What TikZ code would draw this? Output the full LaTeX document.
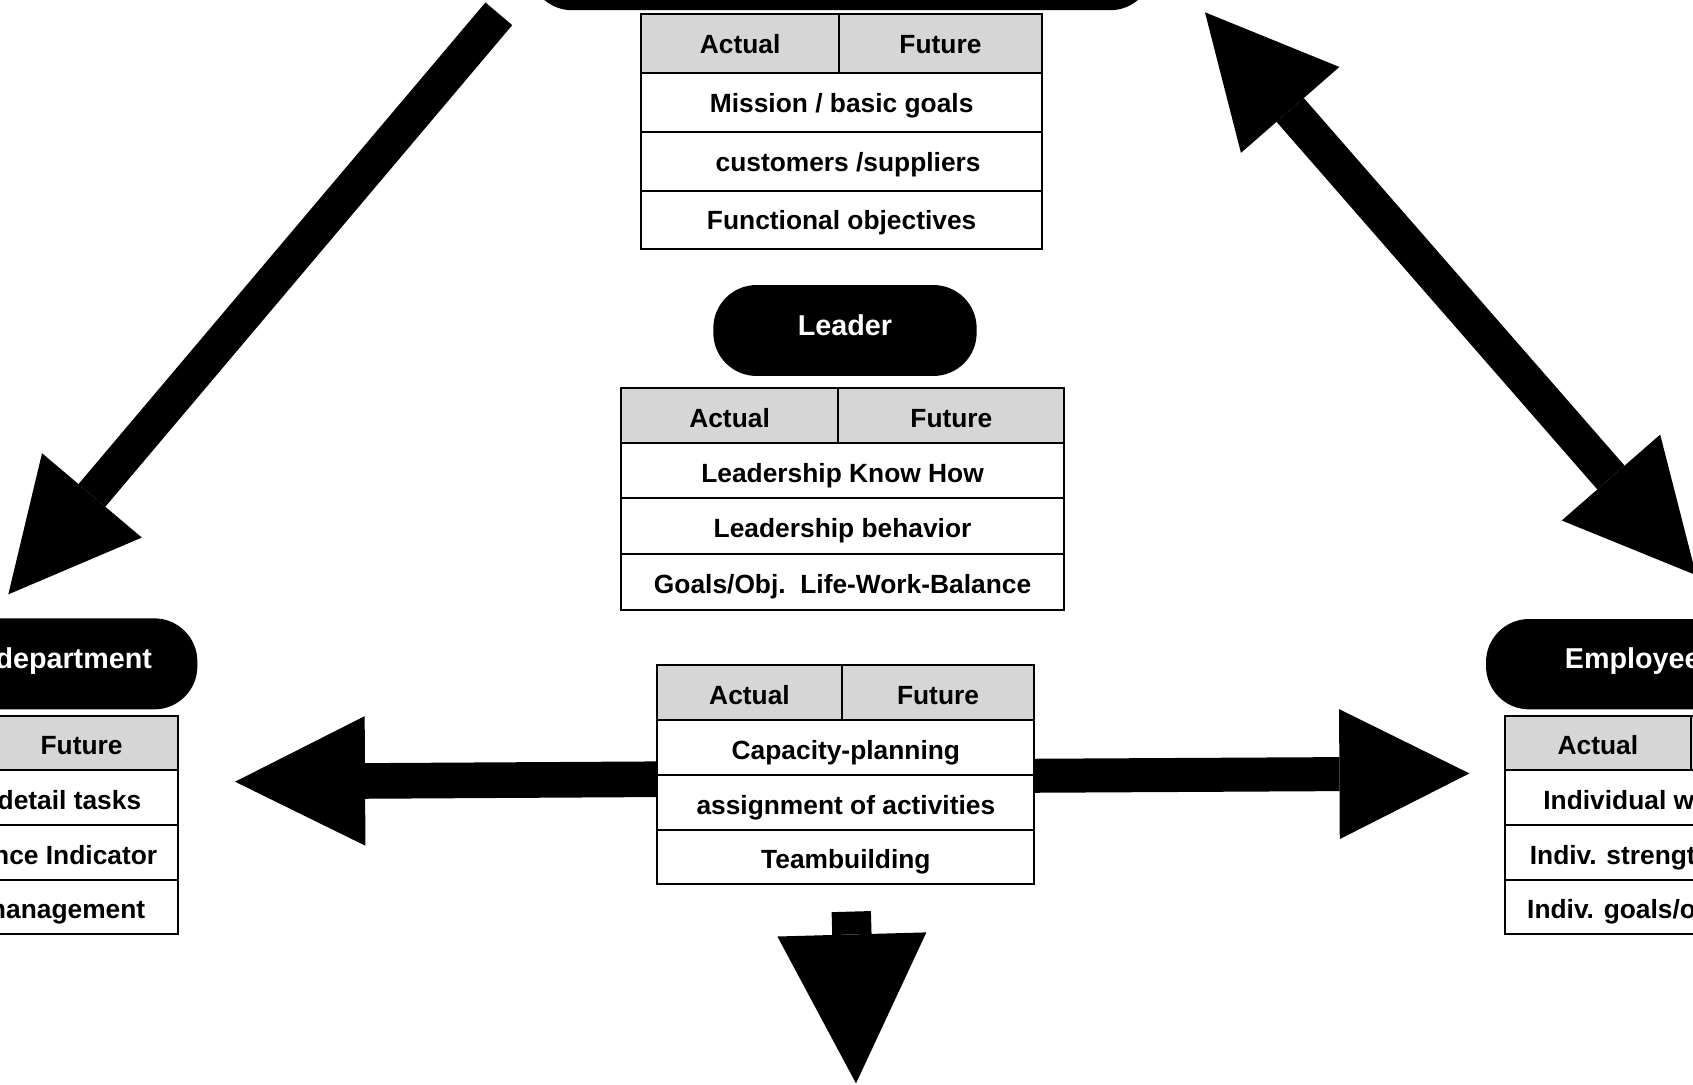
\documentclass[tikz,border=0pt]{standalone}
\usepackage{fontspec}
\setmainfont{Liberation Sans}
\usetikzlibrary{arrows.meta}
\definecolor{hdrgray}{RGB}{214,214,214}
\newcommand\tabfont{\fontsize{12.2pt}{14pt}\selectfont\bfseries}
\newcommand\pillfont{\fontsize{13.3pt}{15pt}\selectfont\bfseries}
\newcommand\TabCell[7]{\node[#2, minimum width={((#5)-(#3))*0.5pt}, minimum height={((#6)-(#4))*0.5pt}] (#1) at ({((#3)+(#5))/2},{((#4)+(#6))/2}) {#7};}
\tikzset{
  tcell/.style={draw=black, line width=1pt, fill=white, inner sep=0pt, font=\tabfont, text height=11pt, text depth=0.26pt},
  thead/.style={tcell, fill=hdrgray},
  tcellhi/.style={tcell, text height=9.2pt},
  theadhi/.style={thead, text height=9.2pt},
  pill/.style={fill=black, rounded corners=20pt, inner sep=0pt, text=white, font=\pillfont, text height=10pt, text depth=5.48pt},
  ttext/.style={inner sep=0pt, font=\tabfont, text height=8.74pt, text depth=0pt},
  ptext/.style={inner sep=0pt, font=\pillfont, text=white, text height=9.52pt, text depth=0pt},
  fatarrow/.style n args={3}{line width=#1, arrows={-{Triangle[length=#2, width=#3, line width=0pt 0 0]}}},
  fatboth/.style n args={3}{line width=#1, arrows={{Triangle[length=#2, width=#3, line width=0pt 0 0]}-{Triangle[length=#2, width=#3, line width=0pt 0 0]}}}
}
\begin{document}
\begin{tikzpicture}[x=0.5pt, y=-0.5pt]
\fill[white] (0,0) rectangle (1568,1004);
\useasboundingbox (0,0) rectangle (1568,1004);

% ---- arrows ----
\coordinate (a1s) at (462,12.8);
\coordinate (a1t) at (7.7,550.5);
\coordinate (a2a) at (1116,11.4);
\coordinate (a2b) at (1570.9,532.7);
\coordinate (a3s) at (610,721.7);
\coordinate (a3t) at (217.7,724);
\coordinate (a4s) at (957,718.5);
\coordinate (a4t) at (1360.9,716.3);
\coordinate (a5s) at (788.4,844.3);
\coordinate (a5t) at (792.8,1003.4);
\draw[fatarrow={16.25pt}{60pt}{60.5pt}] (a1s) -- (a1t);
\draw[fatboth={16.75pt}{60pt}{60.5pt}] (a2a) -- (a2b);
\draw[fatarrow={16.5pt}{60.2pt}{60pt}] (a3s) -- (a3t);
\draw[fatarrow={15.75pt}{60.2pt}{60.2pt}] (a4s) -- (a4t);
\draw[fatarrow={18.2pt}{69pt}{69pt}] (a5s) -- (a5t);

% ---- pills ----
\node[pill, minimum width=289pt, minimum height=44.75pt] (toppill) at (779,-35.25) {};
\node[pill, minimum width=121.95pt, minimum height=42.1pt] (leader) at (782.6,306.1) {Leader};
\node[pill, minimum width=191.4pt, minimum height=42.15pt] (deptpill) at (-8.6,614.85) {};
\node[pill, minimum width=211.85pt, minimum height=41.85pt] (emppill) at (1588.15,615.15) {};
\node[ptext, anchor=east] (depttxt) at (141.1,610) {department};
\node[ptext, anchor=west] (emptxt) at (1449,610) {Employee};

% ---- top table ----
\TabCell{ta}{theadhi}{594}{13}{777}{68}{Actual}
\TabCell{tf}{theadhi}{777}{13}{965}{68}{Future}
\TabCell{tr1}{tcellhi}{594}{68}{965}{122}{Mission / basic goals}
\TabCell{tr2}{tcellhi}{594}{122}{965}{177}{\hspace*{6pt}customers /suppliers}
\TabCell{tr3}{tcellhi}{594}{177}{965}{231}{Functional objectives}

% ---- leader table ----
\TabCell{la}{thead}{574.9}{359.7}{776.5}{410}{Actual}
\TabCell{lf}{thead}{776.5}{359.7}{985.8}{410}{Future}
\TabCell{lr1}{tcell}{574.9}{410}{985.8}{461.5}{Leadership Know How}
\TabCell{lr2}{tcell}{574.9}{461.5}{985.8}{513.1}{Leadership behavior}
\TabCell{lr3}{tcell}{574.9}{513.1}{985.8}{565}{Goals/Obj.\ \ Life-Work-Balance}

% ---- bottom centre table ----
\TabCell{ba}{thead}{608.8}{615.9}{779.5}{666.9}{Actual}
\TabCell{bf}{thead}{779.5}{615.9}{958}{666.9}{Future}
\TabCell{br1}{tcell}{608.8}{666.9}{958}{717.8}{Capacity-planning}
\TabCell{br2}{tcell}{608.8}{717.8}{958}{768.7}{assignment of activities}
\TabCell{br3}{tcell}{608.8}{768.7}{958}{819}{Teambuilding}

% ---- left (department) table ----
\TabCell{da}{thead}{-200}{663.2}{-13.4}{713.2}{}
\TabCell{df}{thead}{-13.4}{663.2}{164.6}{713.2}{Future}
\TabCell{dr1}{tcell}{-200}{713.2}{164.6}{764.1}{}
\TabCell{dr2}{tcell}{-200}{764.1}{164.6}{815}{}
\TabCell{dr3}{tcell}{-200}{815}{164.6}{865.4}{}
\node[ttext, anchor=east] (dt1) at (131.2,740.6) {detail tasks};
\node[ttext, anchor=east] (dt2) at (146,791.5) {Performance Indicator};
\node[ttext, anchor=east] (dt3) at (134.9,842.2) {management};

% ---- right (employee) table ----
\TabCell{ea}{thead}{1393.9}{663.2}{1565.9}{713.2}{Actual}
\TabCell{ef}{thead}{1565.9}{663.2}{1750}{713.2}{}
\TabCell{er1}{tcell}{1393.9}{713.2}{1750}{764.1}{}
\TabCell{er2}{tcell}{1393.9}{764.1}{1750}{815}{}
\TabCell{er3}{tcell}{1393.9}{815}{1750}{865.4}{}
\node[ttext, anchor=west] (et1) at (1429,740.6) {Individual wishes};
\node[ttext, anchor=west] (et2) at (1416.5,791.5) {Indiv. strengths};
\node[ttext, anchor=west] (et3) at (1414,842.2) {Indiv. goals/objectives};
\end{tikzpicture}
\end{document}
